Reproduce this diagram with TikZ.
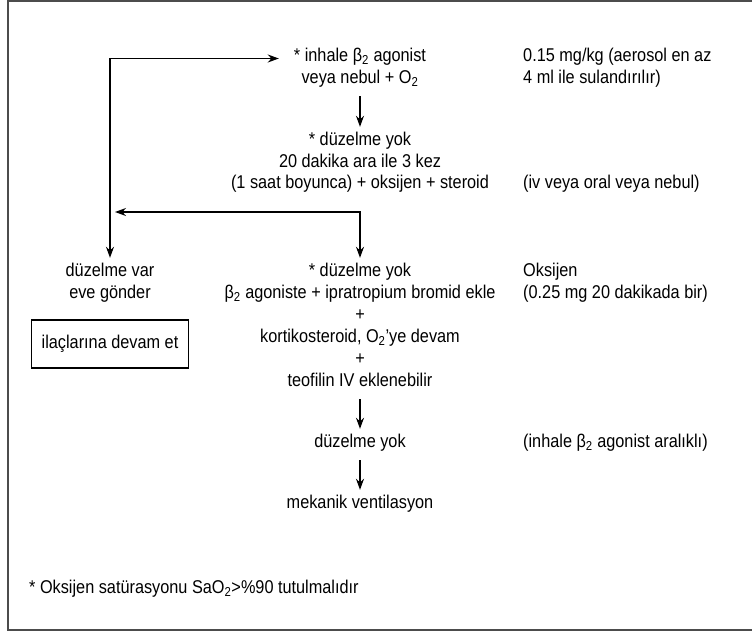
\documentclass[tikz,border=0pt]{standalone}
\usepackage{fontspec}
\setmainfont{Liberation Sans}[FakeStretch=0.88]
\usetikzlibrary{arrows.meta}

\begin{document}
\begin{tikzpicture}[
  x=1pt, y=-1pt,
  txt/.style={font=\fontsize{18.5}{22}\selectfont, anchor=base, inner xsep=0pt, inner ysep=5pt, text height=13pt, text depth=8pt},
  box/.style={draw, line width=1.2pt, minimum width=157pt, minimum height=48pt, inner sep=0pt, font=\fontsize{18.5}{22}\selectfont},
  arr/.style={->, >={Stealth[length=11pt, width=8pt]}, line width=1.2pt}
]
\useasboundingbox (0,0) rectangle (752,632);
\draw[line width=1.3pt, black!70] (752,1) -- (8,1) -- (8,630) -- (752,630);

% centre column
\node[txt] (inhale) at (360, 61) {* inhale β\textsubscript{2} agonist};
\node[txt] (nebul) at (360, 83) {veya nebul + O\textsubscript{2}};
\node[txt] (yok1) at (360, 145) {* düzelme yok};
\node[txt] (kez) at (360, 167) {20 dakika ara ile 3 kez};
\node[txt] (steroid) at (360, 188) {(1 saat boyunca) + oksijen + steroid};
\node[txt] (yok2) at (360, 276) {* düzelme yok};
\node[txt] (ipra) at (360, 298) {β\textsubscript{2} agoniste + ipratropium bromid ekle};
\node[txt] (plus1) at (360, 320) {+};
\node[txt] (korti) at (360, 342) {kortikosteroid, O\textsubscript{2}’ye devam};
\node[txt] (plus2) at (360, 364) {+};
\node[txt] (teo) at (360, 386) {teofilin IV eklenebilir};
\node[txt] (yok3) at (360, 447) {düzelme yok};
\node[txt] (meka) at (360, 508) {mekanik ventilasyon};

% left column
\node[txt] (var) at (110, 276) {düzelme var};
\node[txt] (eve) at (110, 298) {eve gönder};
\node[box] (ilac) at (110, 344) {ilaçlarına devam et};

% right column
\node[txt, anchor=base west] (doz) at (523, 61) {0.15 mg/kg (aerosol en az};
\node[txt, anchor=base west] (ml) at (523, 83) {4 ml ile sulandırılır)};
\node[txt, anchor=base west] (oral) at (523, 188) {(iv veya oral veya nebul)};
\node[txt, anchor=base west] (oks) at (523, 276) {Oksijen};
\node[txt, anchor=base west] (mg) at (523, 298) {(0.25 mg 20 dakikada bir)};
\node[txt, anchor=base west] (aral) at (523, 447) {(inhale β\textsubscript{2} agonist aralıklı)};

% footnote
\node[txt, anchor=base west] (not) at (29, 593) {* Oksijen satürasyonu SaO\textsubscript{2}>\%90 tutulmalıdır};

% connectors
\coordinate (join) at (115, 212);
\draw[arr, <->, shorten >=15pt] (var.north) |- (inhale.west);
\draw[arr] (nebul) -- (yok1);
\draw[arr, <->] (join) -| (yok2);
\draw[arr] (teo) -- (yok3);
\draw[arr] (yok3) -- (meka);

\end{tikzpicture}
\end{document}
